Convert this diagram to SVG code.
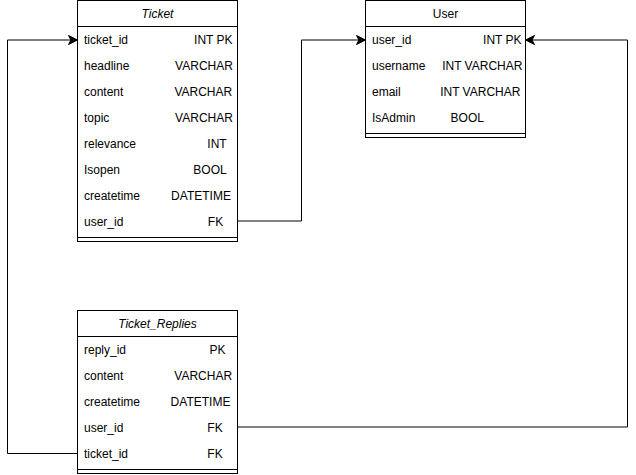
<svg xmlns="http://www.w3.org/2000/svg" width="636" height="475" viewBox="0 0 636 475">
<style>
.tbl{fill:#fff;stroke:#000;stroke-width:1}
.ln{stroke:#000;stroke-width:1;fill:none}
text{font-family:"Liberation Sans",Arial,sans-serif;font-size:12px;fill:#000}
.ttl{text-anchor:middle}
.ty{text-anchor:middle}
.it{font-style:italic}
.conn{stroke:#000;stroke-width:1;fill:none}
</style>
<defs>
<marker id="arr" markerUnits="userSpaceOnUse" markerWidth="12" markerHeight="12" viewBox="-10 -6 12 12" refX="0" refY="0" orient="auto">
<path d="M0,0 L-9,-4.5 L-6.5,0 L-9,4.5 Z" fill="#000" stroke="#000" stroke-width="1"/>
</marker>
</defs>
<rect width="636" height="475" fill="#fff"/>
<g id="connectors">
<path class="conn" d="M77.5,453.5 H7.5 V40 H77.5" marker-end="url(#arr)"/>
<path class="conn" d="M237.5,221 H301.5 V40 H365.5" marker-end="url(#arr)"/>
<path class="conn" d="M237.5,427 H627.5 V40 H525.5" marker-end="url(#arr)"/>
</g>
<g id="ticket">
<rect class="tbl" x="77.5" y="0.5" width="160" height="241"/>
<line class="ln" x1="77.5" y1="26.5" x2="237.5" y2="26.5"/>
<line class="ln" x1="77.5" y1="237.5" x2="237.5" y2="237.5"/>
<text class="ttl it" x="157.5" y="18">Ticket</text>
<text x="84" y="44">ticket_id</text><text class="ty" x="213.3" y="44">INT PK</text>
<text x="84" y="70">headline</text><text class="ty" x="204" y="70">VARCHAR</text>
<text x="84" y="96">content</text><text class="ty" x="203.3" y="96">VARCHAR</text>
<text x="84" y="122">topic</text><text class="ty" x="204" y="122">VARCHAR</text>
<text x="84" y="148">relevance</text><text class="ty" x="217" y="148">INT</text>
<text x="84" y="174">Isopen</text><text class="ty" x="210" y="174">BOOL</text>
<text x="84" y="200">createtime</text><text class="ty" x="201" y="200">DATETIME</text>
<text x="84" y="226">user_id</text><text class="ty" x="215.5" y="226">FK</text>
</g>
<g id="user">
<rect class="tbl" x="365.5" y="0.5" width="160" height="137"/>
<line class="ln" x1="365.5" y1="26.5" x2="525.5" y2="26.5"/>
<line class="ln" x1="365.5" y1="133.5" x2="525.5" y2="133.5"/>
<text class="ttl" x="445.5" y="18">User</text>
<text x="372" y="44">user_id</text><text class="ty" x="502.3" y="44">INT PK</text>
<text x="372" y="70">username</text><text class="ty" x="482.3" y="70">INT VARCHAR</text>
<text x="372" y="96">email</text><text class="ty" x="480.3" y="96">INT VARCHAR</text>
<text x="372" y="122">IsAdmin</text><text class="ty" x="467.3" y="122">BOOL</text>
</g>
<g id="ticket_replies">
<rect class="tbl" x="77.5" y="310.5" width="160" height="163"/>
<line class="ln" x1="77.5" y1="336.5" x2="237.5" y2="336.5"/>
<line class="ln" x1="77.5" y1="469.5" x2="237.5" y2="469.5"/>
<text class="ttl it" x="157.5" y="328">Ticket_Replies</text>
<text x="84" y="354">reply_id</text><text class="ty" x="217.5" y="354">PK</text>
<text x="84" y="380">content</text><text class="ty" x="203.2" y="380">VARCHAR</text>
<text x="84" y="406">createtime</text><text class="ty" x="200.5" y="406">DATETIME</text>
<text x="84" y="432">user_id</text><text class="ty" x="215" y="432">FK</text>
<text x="84" y="458">ticket_id</text><text class="ty" x="215" y="458">FK</text>
</g>
</svg>
